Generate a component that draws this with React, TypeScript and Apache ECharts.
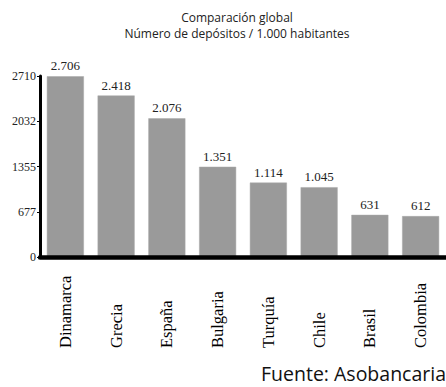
import React, { useEffect, useRef } from "react";
import * as echarts from "echarts";

const categories = ["Dinamarca", "Grecia", "España", "Bulgaria", "Turquía", "Chile", "Brasil", "Colombia"];
const values = [2706, 2418, 2076, 1351, 1114, 1045, 631, 612];
const valueLabels = ["2.706", "2.418", "2.076", "1.351", "1.114", "1.045", "631", "612"];
const yTickLabels = ["0", "677", "1355", "2032", "2710"];
const titleLines = ["Comparación global", "Número de depósitos / 1.000 habitantes"];
const sourceText = "Fuente: Asobancaria";

export default function App() {
  const ref = useRef<HTMLDivElement>(null);
  useEffect(() => {
    if (!ref.current) return;
    const chart = echarts.init(ref.current, null, { renderer: "svg" });
    const serif = "'Liberation Serif', 'DejaVu Serif', serif";
    const titleStyle = {
      fontFamily: "'Open Sans', sans-serif",
      fontSize: 12,
      fontWeight: "normal",
      color: "#222",
      lineHeight: 13,
    };
    chart.setOption({
      animation: false,
      backgroundColor: "#ffffff",
      title: {
        text: titleLines[0],
        subtext: titleLines[1],
        left: 232,
        top: 6,
        textAlign: "center",
        itemGap: 3,
        textStyle: titleStyle,
        subtextStyle: titleStyle,
      },
      grid: { left: 40, right: 0, top: 76, bottom: 130 },
      xAxis: {
        type: "category",
        data: categories,
        z: 5,
        axisLine: { lineStyle: { color: "#000", width: 4.5 } },
        axisTick: { show: false },
        axisLabel: {
          rotate: 90,
          align: "left",
          verticalAlign: "middle",
          margin: 91,
          fontFamily: serif,
          fontSize: 16.5,
          color: "#000",
          interval: 0,
        },
      },
      yAxis: {
        type: "value",
        min: 0,
        max: 2710,
        interval: 677.5,
        z: 5,
        splitLine: { show: false },
        axisLine: { show: true, lineStyle: { color: "#000", width: 3 } },
        axisTick: { show: true, length: 3, lineStyle: { color: "#000", width: 1 } },
        axisLabel: {
          margin: 4,
          fontFamily: serif,
          fontSize: 12,
          color: "#222",
          formatter: (v: number) => yTickLabels[Math.round(v / 677.5)],
        },
      },
      series: [
        {
          type: "bar",
          data: values,
          barWidth: "73%",
          itemStyle: { color: "#9a9a9a", borderColor: "#a8a8a8", borderWidth: 0.5 },
          label: {
            show: true,
            position: "top",
            distance: 4,
            fontFamily: serif,
            fontSize: 13,
            color: "#222",
            formatter: (p: any) => valueLabels[p.dataIndex],
          },
        },
      ],
      graphic: [
        {
          type: "text",
          right: 0,
          top: 363,
          style: {
            text: sourceText,
            fontFamily: "'Open Sans', sans-serif",
            fontSize: 19.5,
            fill: "#111",
          },
        },
      ],
    });
    return () => chart.dispose();
  }, []);
  return (
    <div
      ref={ref}
      style={{ position: "fixed", left: 0, top: 0, width: 446, height: 387, background: "#fff" }}
    />
  );
}
